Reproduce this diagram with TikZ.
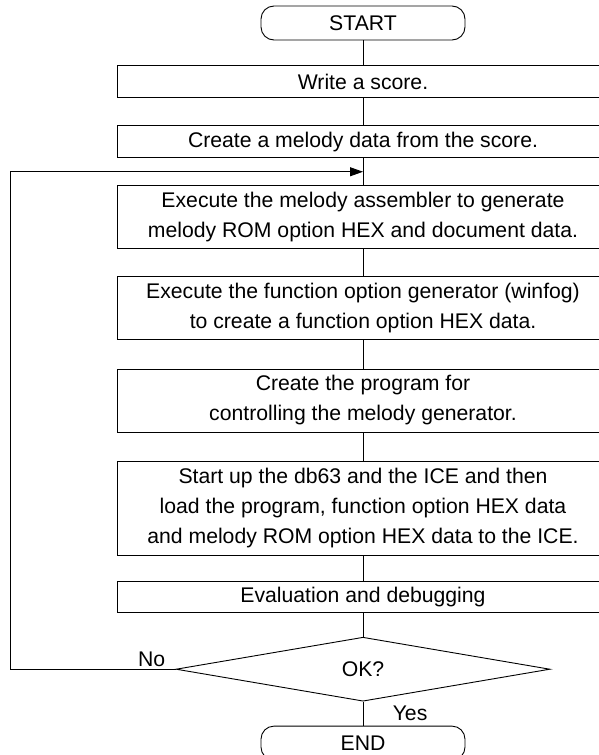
\documentclass[tikz,border=0pt]{standalone}
\usepackage{fontspec}
\setmainfont{Liberation Sans}
\usetikzlibrary{arrows.meta,positioning,shapes.geometric}

\begin{document}
\begin{tikzpicture}[
  x=1pt, y=1pt,
  node distance=27pt,
  txt/.style={font=\fontsize{21.2}{30}\selectfont},
  box/.style={draw, txt, line width=0.9pt, align=center, minimum width=492pt,
    minimum height=32pt, inner sep=2pt},
  term/.style={draw, txt, line width=0.9pt, rounded corners=13pt,
    minimum width=204pt, minimum height=34pt, inner sep=2pt},
  decision/.style={draw, txt, diamond, aspect=5.8, line width=0.9pt,
    minimum width=374pt, minimum height=64pt, inner sep=0pt},
  link/.style={line width=0.9pt},
  flow/.style={-{Triangle[length=13pt, width=9pt]}, line width=0.9pt}
]
\useasboundingbox (0,0) rectangle (599,-755);
\node[term] (start) at (363,-23) {START};
\node[box, below=25pt of start] (score) {Write a score.};
\node[box, below=of score] (melody) {Create a melody data from the score.};
\node[box, minimum height=63pt, below=of melody] (asm)
  {Execute the melody assembler to generate\\melody ROM option HEX and document data.};
\node[box, minimum height=63pt, below=of asm] (winfog)
  {Execute the function option generator (winfog)\\to create a function option HEX data.};
\node[box, minimum height=63pt, below=28.5pt of winfog] (program)
  {Create the program for\\controlling the melody generator.};
\node[box, minimum height=94pt, below=28.5pt of program] (load)
  {Start up the db63 and the ICE and then\\load the program, function option HEX data\\and melody ROM option HEX data to the ICE.};
\node[box, minimum height=31pt, below=25pt of load] (debug) {Evaluation and debugging};
\node[decision, below=24pt of debug] (ok) {OK?};
\node[term, below=24pt of ok] (stop) {END};
\draw[link] (start) -- (score);
\draw[link] (score) -- (melody);
\draw[link] (melody) -- coordinate (loopin) (asm);
\draw[link] (asm) -- (winfog);
\draw[link] (winfog) -- (program);
\draw[link] (program) -- (load);
\draw[link] (load) -- (debug);
\draw[link] (debug) -- (ok);
\draw[link] (ok) -- node[txt, right=26pt] {Yes} (stop);
\draw[flow] (ok.west) node[txt, above left, inner xsep=10pt, inner ysep=2pt] {No}
  -- ++(-165,0) |- (loopin);
\end{tikzpicture}
\end{document}
